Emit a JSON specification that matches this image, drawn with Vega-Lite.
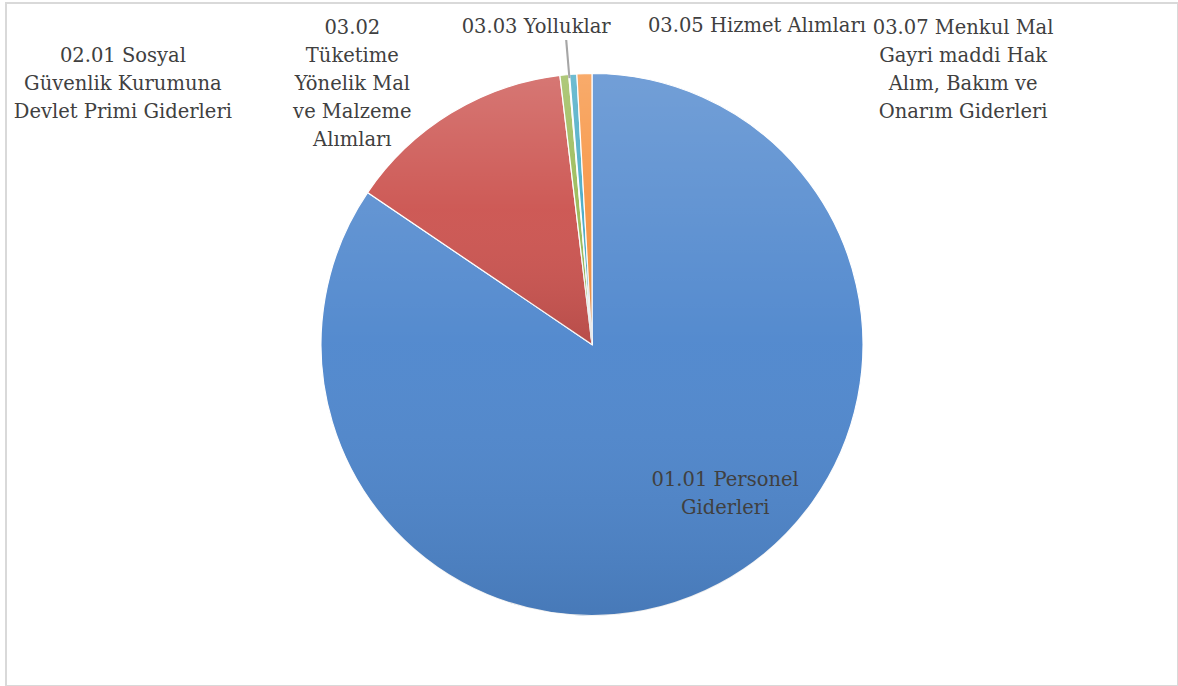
{
  "$schema": "https://vega.github.io/schema/vega-lite/v6.json",
  "autosize": {"type": "fit", "contains": "padding"},
  "width": 1178,
  "height": 686,
  "padding": {"left": 6, "top": 3, "right": 0, "bottom": 0},
  "background": "white",
  "view": {"stroke": "#d9d9d9", "strokeWidth": 2},
  "data": {
    "values": [
      {"cat": "01.01 Personel Giderleri", "value": 84.47, "label": "01.01 Personel\nGiderleri"},
      {"cat": "02.01 Sosyal Güvenlik Kurumuna Devlet Primi Giderleri", "value": 13.64, "label": "02.01 Sosyal\nGüvenlik Kurumuna\nDevlet Primi Giderleri"},
      {"cat": "03.02 Tüketime Yönelik Mal ve Malzeme Alımları", "value": 0.52, "label": "03.02\nTüketime\nYönelik Mal\nve Malzeme\nAlımları"},
      {"cat": "03.03 Yolluklar", "value": 0.05, "label": "03.03 Yolluklar"},
      {"cat": "03.05 Hizmet Alımları", "value": 0.43, "label": "03.05 Hizmet Alımları"},
      {"cat": "03.07 Menkul Mal Gayri maddi Hak Alım, Bakım ve Onarım Giderleri", "value": 0.89, "label": "03.07 Menkul Mal\nGayri maddi Hak\nAlım, Bakım ve\nOnarım Giderleri"}
    ]
  },
  "encoding": {
    "theta": {"field": "value", "type": "quantitative", "stack": true}
  },
  "layer": [
    {
      "mark": {"type": "arc", "outerRadius": 271, "stroke": "white", "strokeWidth": 1.2},
      "encoding": {
        "color": {
          "field": "cat", "type": "nominal", "legend": null,
          "scale": {"range": ["#4f87cd", "#cc5551", "#9bbb59", "#8064a2", "#4bacc6", "#f79646"]}
        }
      }
    },
    {
      "mark": {"type": "arc", "outerRadius": 271, "strokeWidth": 0},
      "encoding": {
        "detail": {"field": "cat", "type": "nominal"},
        "fill": {"value": {"gradient": "linear", "x1": 0, "y1": 0, "x2": 0, "y2": 1,
          "stops": [{"offset": 0, "color": "rgba(255,255,255,0.2)"}, {"offset": 0.5, "color": "rgba(255,255,255,0.03)"}, {"offset": 1, "color": "rgba(0,0,0,0.1)"}]}}
      }
    },
    {
      "mark": {"type": "arc", "innerRadius": 268, "outerRadius": 305, "strokeWidth": 1.2, "fillOpacity": 0},
      "encoding": {
        "detail": {"field": "cat", "type": "nominal"},
        "stroke": {"condition": {"test": "datum.cat === '03.03 Yolluklar'", "value": "#a6a6a6"}, "value": "transparent"}
      }
    },
    {
      "mark": {"type": "text", "radius": 188, "dx": 45, "dy": -31, "font": "DejaVu Serif", "fontSize": 19.5, "lineHeight": 28, "fill": "#404040", "align": "center", "baseline": "middle", "lineBreak": "\n"},
      "encoding": {
        "detail": {"field": "cat", "type": "nominal"},
        "text": {"condition": {"test": "indexof(datum.cat, '01.01') === 0", "field": "label", "type": "nominal"}, "value": ""}
      }
    },
    {
      "mark": {"type": "text", "radius": 300, "dx": -313, "dy": -32, "font": "DejaVu Serif", "fontSize": 19.5, "lineHeight": 28, "fill": "#404040", "align": "center", "baseline": "middle", "lineBreak": "\n"},
      "encoding": {
        "detail": {"field": "cat", "type": "nominal"},
        "text": {"condition": {"test": "indexof(datum.cat, '02.01') === 0", "field": "label", "type": "nominal"}, "value": ""}
      }
    },
    {
      "mark": {"type": "text", "radius": 300, "dx": -209, "dy": -18, "font": "DejaVu Serif", "fontSize": 19.5, "lineHeight": 28, "fill": "#404040", "align": "center", "baseline": "middle", "lineBreak": "\n"},
      "encoding": {
        "detail": {"field": "cat", "type": "nominal"},
        "text": {"condition": {"test": "indexof(datum.cat, '03.02') === 0", "field": "label", "type": "nominal"}, "value": ""}
      }
    },
    {
      "mark": {"type": "text", "radius": 318, "dx": -29, "dy": -1, "font": "DejaVu Serif", "fontSize": 19.5, "lineHeight": 28, "fill": "#404040", "align": "center", "baseline": "middle", "lineBreak": "\n"},
      "encoding": {
        "detail": {"field": "cat", "type": "nominal"},
        "text": {"condition": {"test": "indexof(datum.cat, '03.03') === 0", "field": "label", "type": "nominal"}, "value": ""}
      }
    },
    {
      "mark": {"type": "text", "radius": 318, "dx": 187, "dy": -1, "font": "DejaVu Serif", "fontSize": 19.5, "lineHeight": 28, "fill": "#404040", "align": "center", "baseline": "middle", "lineBreak": "\n"},
      "encoding": {
        "detail": {"field": "cat", "type": "nominal"},
        "text": {"condition": {"test": "indexof(datum.cat, '03.05') === 0", "field": "label", "type": "nominal"}, "value": ""}
      }
    },
    {
      "mark": {"type": "text", "radius": 318, "dx": 380, "dy": 1, "font": "DejaVu Serif", "fontSize": 19.5, "lineHeight": 28, "fill": "#404040", "align": "center", "baseline": "middle", "lineBreak": "\n"},
      "encoding": {
        "detail": {"field": "cat", "type": "nominal"},
        "text": {"condition": {"test": "indexof(datum.cat, '03.07') === 0", "field": "label", "type": "nominal"}, "value": ""}
      }
    }
  ]
}
